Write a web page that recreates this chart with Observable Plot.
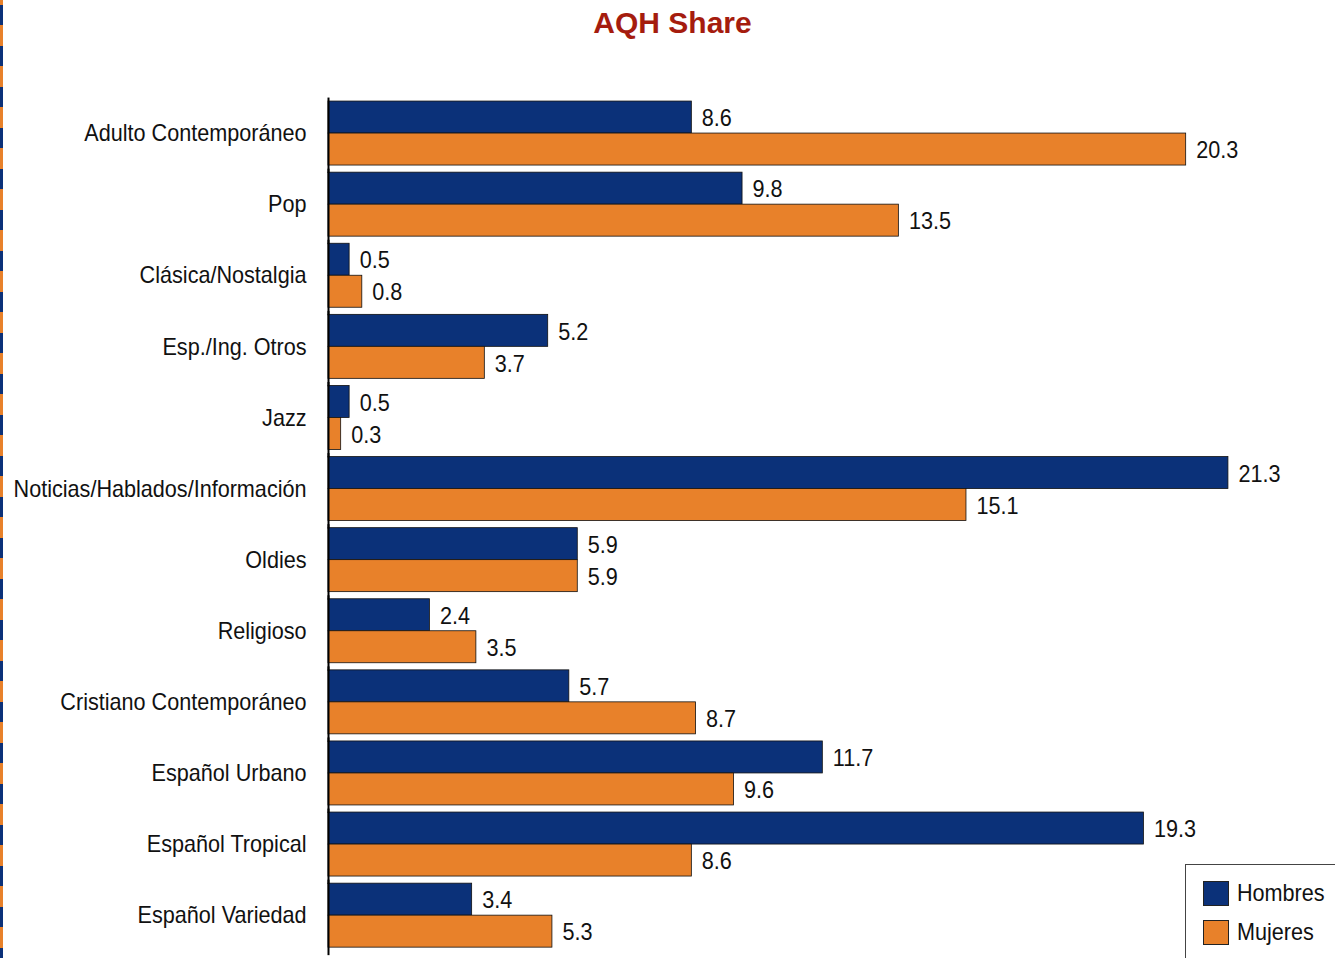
<!DOCTYPE html>
<html>
<head>
<meta charset="utf-8">
<script src="https://cdn.jsdelivr.net/npm/d3@7"></script>
<script src="https://cdn.jsdelivr.net/npm/@observablehq/plot@0.6"></script>
<style>
  html, body { margin: 0; padding: 0; background: #fff; }
  #wrap { position: relative; width: 1335px; height: 958px; overflow: hidden;
          font-family: "Liberation Sans", Arial, sans-serif; }
  #stripe { position: absolute; left: 0; top: 0; width: 3px; height: 958px;
            background: repeating-linear-gradient(to bottom, #E8812A 0px, #E8812A 5px, #0B3179 5px, #0B3179 25px, #E8812A 25px, #E8812A 41px); }
  #title { position: absolute; left: 0; width: 1345px; top: 5px; text-align: center;
           color: #A51C0E; font-weight: bold; font-size: 30px; line-height: 36px; }
  #chart { position: absolute; left: 0; top: 0; }
  #legend { position: absolute; left: 1185px; top: 864px; width: 170px; height: 120px;
            border: 1px solid #444; background: #fff; }
  .li { position: absolute; left: 17px; display: flex; align-items: center; color: #111; }
  .li span { font-size: 24px; display: inline-block; transform: scaleX(0.9); transform-origin: left center; }
  .sw { width: 26px; height: 25px; border: 1px solid #222; box-sizing: border-box; margin-right: 8px; }
</style>
</head>
<body>
<div id="wrap">
  <div id="stripe"></div>
  <div id="chart"></div>
  <div id="title">AQH Share</div>
  <div id="legend"></div>
</div>
<script>
const categories = [
  "Adulto Contemporáneo", "Pop", "Clásica/Nostalgia", "Esp./Ing. Otros", "Jazz",
  "Noticias/Hablados/Información", "Oldies", "Religioso", "Cristiano Contemporáneo",
  "Español Urbano", "Español Tropical", "Español Variedad"
];
const series = ["Hombres", "Mujeres"];
const hombres = [8.6, 9.8, 0.5, 5.2, 0.5, 21.3, 5.9, 2.4, 5.7, 11.7, 19.3, 3.4];
const mujeres = [20.3, 13.5, 0.8, 3.7, 0.3, 15.1, 5.9, 3.5, 8.7, 9.6, 8.6, 5.3];
const colors = ["#0B3179", "#E8812A"];

const data = [];
categories.forEach((c, i) => {
  data.push({category: c, series: series[0], value: hombres[i]});
  data.push({category: c, series: series[1], value: mujeres[i]});
});

const font = '"Liberation Sans", Arial, sans-serif';

const chart = Plot.plot({
  width: 1335,
  height: 958,
  marginTop: 97.5,
  marginBottom: 7.3,
  marginLeft: 328,
  marginRight: 1335 - 328 - 22 * 42.25,
  style: {fontFamily: font, fontSize: "24px", color: "#111", background: "transparent"},
  x: {domain: [0, 22], axis: null},
  y: {domain: series, axis: null, padding: 0, round: false},
  fy: {domain: categories, paddingInner: 0.1, paddingOuter: 0.05, round: false, label: null,
       tickSize: 0, tickPadding: 22, fontSize: 24},
  color: {domain: series, range: colors},
  marks: [
    Plot.barX(data, {fy: "category", y: "series", x: "value", fill: "series",
                     stroke: "#111", strokeWidth: 0.8}),
    Plot.text(data, {fy: "category", y: "series", x: "value", text: d => d.value.toFixed(1),
                     textAnchor: "start", dx: 10, dy: 1, fontSize: 24, fill: "#111"}),
    Plot.ruleX([0], {stroke: "#000", strokeWidth: 2, insetTop: -3.5, insetBottom: -8})
  ]
});
document.getElementById("chart").appendChild(chart);

// Narrow the glyphs horizontally, like a condensed face
chart.querySelectorAll("text").forEach(t => {
  const len = t.getComputedTextLength();
  if (len > 0) {
    t.setAttribute("textLength", (len * 0.9).toFixed(2));
    t.setAttribute("lengthAdjust", "spacingAndGlyphs");
  }
});

const legend = document.getElementById("legend");
series.forEach((s, i) => {
  const row = document.createElement("div");
  row.className = "li";
  row.style.top = (14 + i * 39) + "px";
  const sw = document.createElement("div");
  sw.className = "sw";
  sw.style.background = colors[i];
  const t = document.createElement("span");
  t.textContent = s;
  row.appendChild(sw);
  row.appendChild(t);
  legend.appendChild(row);
});
</script>
</body>
</html>
